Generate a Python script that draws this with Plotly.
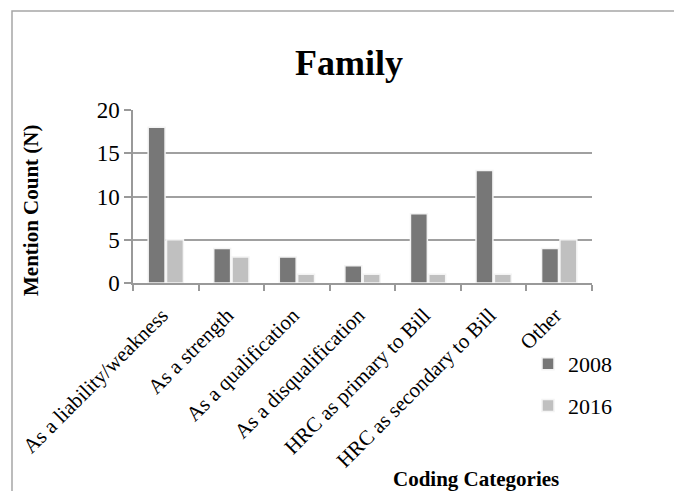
import plotly.graph_objects as go

categories = ["As a liability/weakness", "As a strength", "As a qualification",
              "As a disqualification", "HRC as primary to Bill",
              "HRC as secondary to Bill", "Other"]
values_2008 = [18, 4, 3, 2, 8, 13, 4]
values_2016 = [5, 3, 1, 1, 1, 1, 5]
y_ticks = [0, 5, 10, 15, 20]

FONT = "Liberation Serif"
W, H = 674, 491
L, R, T, B = 133, 82, 110, 208
PW, PH = W - L - R, H - T - B

def px_x(x):
    return (x - L) / PW

def px_y(y):
    return (H - B - y) / PH

fig = go.Figure()
fig.add_trace(go.Bar(x=categories, y=values_2008, name="2008",
                     marker=dict(color="#777777", line=dict(color="#f4f4f4", width=1.5)),
                     legendgroup="a"))
fig.add_trace(go.Bar(x=categories, y=values_2016, name="2016",
                     marker=dict(color="#c0c0c0", line=dict(color="#f4f4f4", width=1.5)),
                     legendgroup="b"))

fig.update_layout(
    width=W, height=H,
    margin=dict(l=L, r=R, t=T, b=B),
    paper_bgcolor="white", plot_bgcolor="white",
    font=dict(family=FONT, size=21, color="black"),
    barmode="group", bargap=0.44, bargroupgap=0.08,
    title=dict(text="<b>Family</b>", x=349 / W, xanchor="center",
               y=1 - 62 / H, yanchor="middle", yref="container",
               font=dict(family=FONT, size=36, color="black")),
    legend=dict(x=px_x(528), xanchor="left", y=px_y(343), yanchor="top",
                font=dict(family=FONT, size=22, color="black"),
                tracegroupgap=10, bgcolor="rgba(0,0,0,0)"),
    showlegend=True,
)

fig.update_xaxes(
    type="category", tickangle=-45, tickson="boundaries",
    ticks="outside", ticklen=6, tickcolor="#999999", tickwidth=1.5,
    showline=True, linecolor="#999999", linewidth=1.5,
    ticklabelstandoff=10, ticklabelshift=-4,
    showgrid=False, tickfont=dict(family=FONT, size=21, color="black"),
)
fig.update_yaxes(
    range=[0, 20], tickvals=y_ticks, ticks="outside", ticklen=7,
    tickcolor="#999999", tickwidth=1.5,
    showline=True, linecolor="#999999", linewidth=1.5,
    showgrid=True, gridcolor="#a0a0a0", gridwidth=1.5,
    zeroline=False, tickfont=dict(family=FONT, size=23, color="black"),
)

fig.add_annotation(text="<b>Mention Count (N)</b>", textangle=-90,
                   xref="paper", yref="paper", x=px_x(31), y=px_y(210),
                   xanchor="center", yanchor="middle", showarrow=False,
                   font=dict(family=FONT, size=21, color="black"))
fig.add_annotation(text="<b>Coding Categories</b>",
                   xref="paper", yref="paper", x=px_x(476), y=px_y(479),
                   xanchor="center", yanchor="middle", showarrow=False,
                   font=dict(family=FONT, size=21, color="black"))

fig.add_shape(type="rect", xref="paper", yref="paper",
              x0=px_x(12), x1=px_x(720), y0=px_y(540), y1=px_y(11),
              line=dict(color="#a6a6a6", width=1.5), fillcolor="rgba(0,0,0,0)",
              layer="below")

fig.write_html("out.html")
